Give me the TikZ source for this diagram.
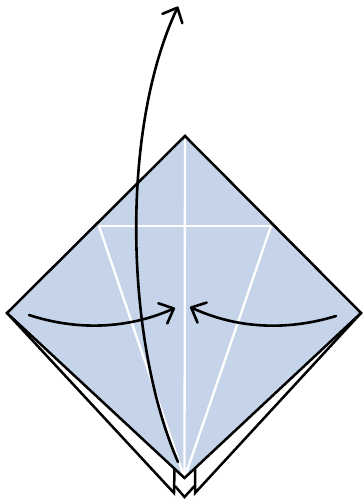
\documentclass[tikz,border=0pt]{standalone}
\usetikzlibrary{arrows.meta}
\definecolor{paper}{HTML}{C6D4EA}
\tikzset{
  edge/.style={draw=black,line width=2.5pt,line join=miter},
  crease/.style={draw=white,line width=2.3pt},
  foldarrow/.style={draw=black,line width=2.6pt,line cap=round,-{Straight Barb[length=12pt,width=22pt,line width=2.6pt,round]}}
}
\begin{document}
\begin{tikzpicture}[x=1pt,y=-1pt]
\useasboundingbox (0,0) rectangle (362,502);
\fill[white] (0,0) rectangle (362,502);
\coordinate (T) at (185,136);
\coordinate (L) at (7,313);
\coordinate (R) at (361,313);
\coordinate (B) at (184.5,478);
\coordinate (HL) at (99,226);
\coordinate (HR) at (271,226);
\coordinate (OL) at (174,493);
\coordinate (OR) at (195,493);
\coordinate (IL) at (174.5,469);
\coordinate (IR) at (195,469);
\coordinate (CL) at (175,486);
\coordinate (CB) at (184.5,497);
\coordinate (CR) at (194.5,486);
% back layers
\draw[edge] (L) -- (OL) -- (IL);
\draw[edge] (R) -- (OR) -- (IR);
\draw[edge] (CL) -- (CB) -- (CR);
% front
\fill[paper] (T) -- (R) -- (B) -- (L) -- cycle;
\draw[crease] (T) -- (B);
\draw[crease] (HL) -- (HR);
\draw[crease] (HL) -- (B) -- (HR);
\draw[edge] (T) -- (R) -- (B) -- (L) -- cycle;
% arrows
\coordinate (A1s) at (178,462);
\coordinate (A1e) at (178,6.5);
\coordinate (A2s) at (29,315);
\coordinate (A2e) at (175,308);
\coordinate (A3s) at (336,316);
\coordinate (A3e) at (190,307);
\draw[foldarrow] (A1s) .. controls (125,340) and (120,130) .. (A1e);
\draw[foldarrow] (A2s) .. controls (75,330) and (125,330) .. (A2e);
\draw[foldarrow] (A3s) .. controls (290,330) and (240,330) .. (A3e);
\end{tikzpicture}
\end{document}
